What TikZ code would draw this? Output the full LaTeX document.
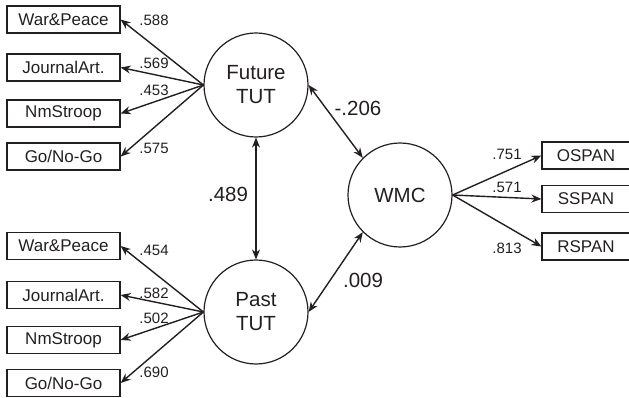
\documentclass[tikz,border=0pt]{standalone}
\usepackage{fontspec}
\setmainfont{Liberation Sans}
\usetikzlibrary{arrows.meta}
\definecolor{ink}{HTML}{231F20}
\begin{document}
\begin{tikzpicture}[x=1pt,y=-1pt,color=ink,
  ind/.style={draw,line width=1.2pt,rectangle,minimum height=27pt,inner sep=0pt,font=\fontsize{17}{19}\selectfont},
  lbox/.style={ind,minimum width=113pt},
  rbox/.style={ind,minimum width=88pt},
  lat/.style={draw,circle,line width=1.2pt,minimum size=104pt,inner sep=0pt,align=center,font=\fontsize{20.5}{24}\selectfont},
  ar/.style={line width=1.4pt,-{Stealth[length=10pt,width=8pt]}},
  dar/.style={line width=1.4pt,{Stealth[length=10pt,width=8pt]}-{Stealth[length=10pt,width=8pt]}},
  sl/.style={font=\fontsize{15}{16}\selectfont,inner sep=0pt},
  bl/.style={font=\fontsize{20.5}{22}\selectfont,inner sep=0pt}]
\useasboundingbox (0,0) rectangle (629,398);
% latent
\node[lat] (fut) at (256,85) {Future\\TUT};
\node[lat] (pas) at (256,312) {Past\\TUT};
\node[lat] (wmc) at (400,195) {WMC};
% left boxes top
\node[lbox] (f1) at (63.5,19.5) {War\&Peace};
\node[lbox] (f2) at (63.5,67.5) {JournalArt.};
\node[lbox] (f3) at (63.5,113.5) {NmStroop};
\node[lbox] (f4) at (63.5,156.5) {Go/No-Go};
% left boxes bottom
\node[lbox] (p1) at (63.5,246) {War\&Peace};
\node[lbox] (p2) at (63.5,295) {JournalArt.};
\node[lbox] (p3) at (63.5,340) {NmStroop};
\node[lbox] (p4) at (63.5,383) {Go/No-Go};
% right boxes
\node[rbox] (w1) at (586,155.5) {OSPAN};
\node[rbox] (w2) at (586,199) {SSPAN};
\node[rbox] (w3) at (586,246.5) {RSPAN};
% arrows
\foreach \b in {f1,f2,f3,f4} \draw[ar] (fut.west) -- (\b.east);
\foreach \b in {p1,p2,p3,p4} \draw[ar] (pas.west) -- (\b.east);
\foreach \b in {w1,w2,w3} \draw[ar] (wmc.east) -- (\b.west);
\draw[dar] (fut.south) -- (pas.north);
\draw[dar] (fut.east) -- (wmc.135);
\draw[dar] (pas.east) -- (wmc.225);
% labels
\node[sl] (lf1) at (154,20) {.588};
\node[sl] (lf2) at (154,63) {.569};
\node[sl] (lf3) at (154,90) {.453};
\node[sl] (lf4) at (154,148) {.575};
\node[sl] (lp1) at (154,250) {.454};
\node[sl] (lp2) at (154,293) {.582};
\node[sl] (lp3) at (154,318) {.502};
\node[sl] (lp4) at (154,372) {.690};
\node[sl] (lw1) at (507,154) {.751};
\node[sl] (lw2) at (507,187) {.571};
\node[sl] (lw3) at (507,248) {.813};
\node[bl] (lfp) at (228,194) {.489};
\node[bl] (lfw) at (358,108) {-.206};
\node[bl] (lpw) at (363,280) {.009};
\end{tikzpicture}
\end{document}
